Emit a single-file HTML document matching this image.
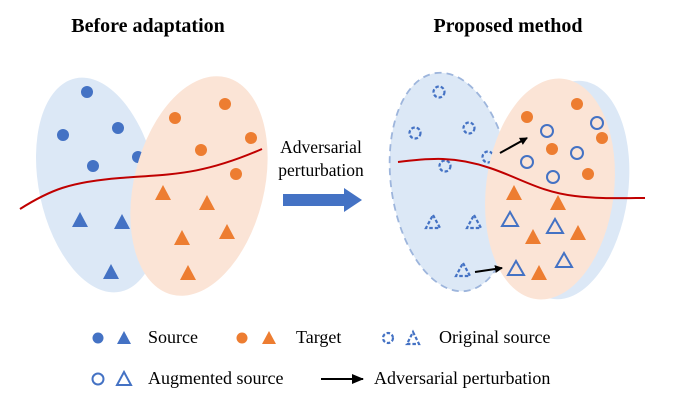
<!DOCTYPE html>
<html><head><meta charset="utf-8"><style>
html,body{margin:0;padding:0;background:#fff;}
svg{display:block;font-family:"Liberation Serif",serif;}
</style></head><body>
<svg width="676" height="400" viewBox="0 0 676 400" xmlns="http://www.w3.org/2000/svg">
<defs>
<marker id="ah" markerWidth="8" markerHeight="8" refX="7" refY="4" orient="auto" markerUnits="userSpaceOnUse"><path d="M0,0 L8,4 L0,8 z" fill="#000"/></marker>
<marker id="ah2" markerWidth="12" markerHeight="10" refX="11" refY="5" orient="auto" markerUnits="userSpaceOnUse"><path d="M0,0 L12,5 L0,10 z" fill="#000"/></marker>
</defs>
<text x="148" y="32" text-anchor="middle" font-size="20" font-weight="bold">Before adaptation</text>
<text x="508" y="32" text-anchor="middle" font-size="20" font-weight="bold">Proposed method</text>

<!-- left -->
<ellipse cx="98" cy="185" rx="59" ry="109" transform="rotate(-12 98 185)" fill="#dce8f6"/>
<g fill="#4472c4">
<circle cx="87" cy="92" r="6"/><circle cx="63" cy="135" r="6"/><circle cx="118" cy="128" r="6"/><circle cx="93" cy="166" r="6"/><circle cx="138" cy="157" r="6"/>
</g>
<g fill="#4472c4">
<path d="M80,212 L88,227 L72,227z"/><path d="M122,214 L130,229 L114,229z"/><path d="M111,264 L119,279 L103,279z"/>
</g>
<ellipse cx="199" cy="186" rx="65" ry="112" transform="rotate(14 199 186)" fill="#fbe4d6"/>
<g fill="#ed7d31">
<circle cx="175" cy="118" r="6"/><circle cx="225" cy="104" r="6"/><circle cx="201" cy="150" r="6"/><circle cx="251" cy="138" r="6"/><circle cx="236" cy="174" r="6"/>
<path d="M163,185 L171,200 L155,200z"/><path d="M207,195 L215,210 L199,210z"/><path d="M182,230 L190,245 L174,245z"/><path d="M227,224 L235,239 L219,239z"/><path d="M188,265 L196,280 L180,280z"/>
</g>
<path d="M20,209 C50,190 70,182 120,178 C170,174 200,176 262,149" fill="none" stroke="#c00000" stroke-width="2"/>

<!-- middle -->
<text x="321" y="153" text-anchor="middle" font-size="17.5">Adversarial</text>
<text x="321" y="176" text-anchor="middle" font-size="17.5">perturbation</text>
<path d="M283,194 L344,194 L344,188 L362,200 L344,212 L344,206 L283,206 z" fill="#4472c4"/>

<!-- right -->
<ellipse cx="568" cy="190" rx="60" ry="110" transform="rotate(8 568 190)" fill="#dce8f6"/>
<ellipse cx="451" cy="182" rx="60" ry="110" transform="rotate(-8 451 182)" fill="#dce8f6" stroke="#9db5dc" stroke-width="1.8" stroke-dasharray="7,5"/>
<g fill="none" stroke="#4472c4" stroke-width="2.2" stroke-dasharray="3.5,2">
<circle cx="439" cy="92" r="5.5"/><circle cx="415" cy="133" r="5.5"/><circle cx="469" cy="128" r="5.5"/><circle cx="488" cy="157" r="5.5"/><circle cx="445" cy="166" r="5.5"/>
<path d="M433,215 L440,228 L426,228z"/><path d="M474,215 L481,228 L467,228z"/><path d="M463,263 L470,276 L456,276z"/>
</g>
<ellipse cx="550" cy="189" rx="64" ry="111" transform="rotate(7 550 189)" fill="#fbe4d6"/>
<g fill="#ed7d31">
<circle cx="527" cy="117" r="6"/><circle cx="577" cy="104" r="6"/><circle cx="602" cy="138" r="6"/><circle cx="552" cy="149" r="6"/><circle cx="588" cy="174" r="6"/>
<path d="M514,185 L522,200 L506,200z"/><path d="M558,195 L566,210 L550,210z"/><path d="M533,229 L541,244 L525,244z"/><path d="M578,225 L586,240 L570,240z"/><path d="M539,265 L547,280 L531,280z"/>
</g>
<g fill="none" stroke="#4472c4" stroke-width="2">
<circle cx="547" cy="131" r="6"/><circle cx="597" cy="123" r="6"/><circle cx="527" cy="162" r="6"/><circle cx="577" cy="153" r="6"/><circle cx="553" cy="177" r="6"/>
<path d="M510,212 L518,226 L502,226z"/><path d="M555,219 L563,233 L547,233z"/><path d="M516,261 L524,275 L508,275z"/><path d="M564,253 L572,267 L556,267z"/>
</g>
<path d="M398,162 C430,158 455,156 490,168 C520,178 540,192 575,196 C600,199 620,198 645,198" fill="none" stroke="#c00000" stroke-width="2"/>
<line x1="500" y1="153" x2="527" y2="138" stroke="#000" stroke-width="2" marker-end="url(#ah)"/>
<line x1="475" y1="272" x2="502" y2="268" stroke="#000" stroke-width="2" marker-end="url(#ah)"/>

<!-- legend -->
<circle cx="98" cy="338" r="5.5" fill="#4472c4"/><path d="M124,331 L131,344 L117,344z" fill="#4472c4"/>
<text x="148" y="343" font-size="18">Source</text>
<circle cx="242" cy="338" r="5.5" fill="#ed7d31"/><path d="M269,331 L276,344 L262,344z" fill="#ed7d31"/>
<text x="296" y="343" font-size="18">Target</text>
<circle cx="388" cy="338" r="5" fill="none" stroke="#4472c4" stroke-width="2.2" stroke-dasharray="3.5,2"/>
<path d="M413,332 L419,344 L407,344z" fill="none" stroke="#4472c4" stroke-width="2.2" stroke-dasharray="3.5,2"/>
<text x="439" y="343" font-size="18">Original source</text>
<circle cx="98" cy="379" r="5.5" fill="none" stroke="#4472c4" stroke-width="2"/>
<path d="M124,372 L131,385 L117,385z" fill="none" stroke="#4472c4" stroke-width="2"/>
<text x="148" y="384" font-size="18">Augmented source</text>
<line x1="321" y1="379" x2="363" y2="379" stroke="#000" stroke-width="2" marker-end="url(#ah2)"/>
<text x="374" y="384" font-size="18">Adversarial perturbation</text>
</svg>
</body></html>
